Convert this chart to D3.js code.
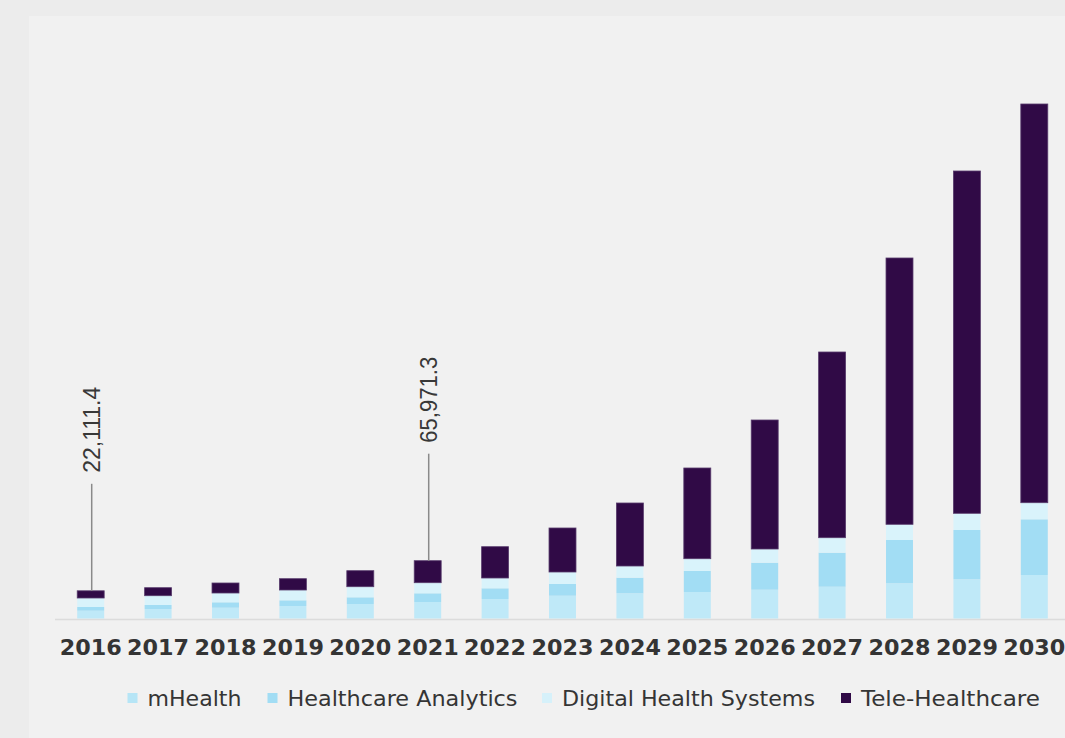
<!DOCTYPE html>
<html>
<head>
<meta charset="utf-8">
<script src="https://cdn.jsdelivr.net/npm/d3@7"></script>
<style>
  html, body { margin: 0; padding: 0; background: #ececec; }
  svg { display: block; }
</style>
</head>
<body>
<svg id="chart" width="1065" height="738"></svg>
<script>
// ---- data (USD million) ----
const years = ["2016","2017","2018","2019","2020","2021","2022","2023","2024","2025","2026","2027","2028","2029","2030"];
const seriesNames = ["mHealth", "Healthcare Analytics", "Digital Health Systems", "Tele-Healthcare"];
const mHealth            = [6240, 7600, 8640, 10000, 11600, 13200, 15600, 18240, 20160, 21200, 23040, 25440, 28160, 31360, 34800];
const healthcareAnalytics= [2960, 3200, 4320, 4560, 5360, 6960, 8560, 9360, 12480, 16800, 21600, 27200, 34640, 39440, 44560];
const digitalHealth      = [7200, 7440, 7440, 8240, 8480, 8480, 8240, 9600, 9360, 9840, 10960, 12000, 12560, 13360, 13280];
const teleHealthcare     = [5760, 6400, 8000, 9040, 12800, 17600, 25040, 35200, 50400, 72560, 103200, 148560, 213040, 273840, 318960];
const annotationYears  = ["2016", "2021"];
const annotationLabels = ["22,111.4", "65,971.3"];

const colors = ["#bfe9f8", "#a2ddf4", "#d9f3fb", "#300a46"];
const legendColors = ["#b6e5f6", "#a2ddf4", "#d6f1fa", "#300a46"];

const table = years.map((y, i) => ({
  year: y,
  "mHealth": mHealth[i],
  "Healthcare Analytics": healthcareAnalytics[i],
  "Digital Health Systems": digitalHealth[i],
  "Tele-Healthcare": teleHealthcare[i]
}));

const svg = d3.select("#chart");

// panel background
svg.append("rect").attr("x", 29).attr("y", 16).attr("width", 1065 - 29).attr("height", 738 - 16)
  .attr("fill", "#f1f1f1");

const x = d3.scaleBand().domain(years).range([57, 1068]).paddingInner(0.6).paddingOuter(0.3);
const y = d3.scaleLinear().domain([0, 416000]).range([618.5, 98.5]);

// baseline
svg.append("line").attr("x1", 55).attr("x2", 1065).attr("y1", 619.5).attr("y2", 619.5)
  .attr("stroke", "#dcdcdc").attr("stroke-width", 1.5);

const stack = d3.stack().keys(seriesNames);
const layers = stack(table);

svg.append("g").selectAll("g").data(layers).join("g")
  .attr("fill", (d, i) => colors[i])
  .attr("stroke", (d, i) => i === 3 ? "#573b6c" : "none")
  .attr("stroke-width", (d, i) => i === 3 ? 0.8 : 0)
  .selectAll("rect").data(d => d).join("rect")
  .attr("x", d => x(d.data.year))
  .attr("width", x.bandwidth())
  .attr("y", d => y(d[1]))
  .attr("height", d => y(d[0]) - y(d[1]));

// x axis labels
const xAxis = d3.axisBottom(x).tickSize(0).tickPadding(0);
const gx = svg.append("g").attr("transform", "translate(0,622)").call(xAxis);
gx.select(".domain").remove();
gx.selectAll("text")
  .attr("dy", "0").attr("y", 33)
  .attr("font-family", "DejaVu Sans")
  .attr("font-weight", "bold")
  .attr("font-size", 21.5)
  .attr("fill", "#343434")
  .attr("textLength", 62)
  .attr("lengthAdjust", "spacingAndGlyphs");

// annotations
annotationYears.forEach((yr, i) => {
  const row = table[years.indexOf(yr)];
  const total = seriesNames.reduce((s, k) => s + row[k], 0);
  const cx = x(yr) + x.bandwidth() / 2 + 1;
  const top = y(total);
  const lineTop = top - 107;
  svg.append("line").attr("x1", cx).attr("x2", cx).attr("y1", top).attr("y2", lineTop)
    .attr("stroke", "#8a8a8a").attr("stroke-width", 1.5);
  svg.append("text")
    .attr("transform", `translate(${cx},${lineTop - 11}) rotate(-90)`)
    .attr("dy", "0.36em")
    .attr("text-anchor", "start")
    .attr("font-family", "Liberation Sans, Arial, sans-serif")
    .attr("font-size", 24)
    .attr("fill", "#383838")
    .attr("textLength", 86)
    .attr("lengthAdjust", "spacingAndGlyphs")
    .text(annotationLabels[i]);
});

// legend
const legendX = [127.5, 267.5, 542, 841];
const legendW = [94, 230, 253, 179];
const lg = svg.append("g");
seriesNames.forEach((name, i) => {
  lg.append("rect").attr("x", legendX[i]).attr("y", 693).attr("width", 10).attr("height", 10)
    .attr("fill", legendColors[i]);
  lg.append("text").attr("x", legendX[i] + 20).attr("y", 698).attr("dy", "0.36em")
    .attr("font-family", "DejaVu Sans")
    .attr("font-size", 21)
    .attr("fill", "#353535")
    .attr("textLength", legendW[i])
    .attr("lengthAdjust", "spacingAndGlyphs")
    .text(name);
});
</script>
</body>
</html>
